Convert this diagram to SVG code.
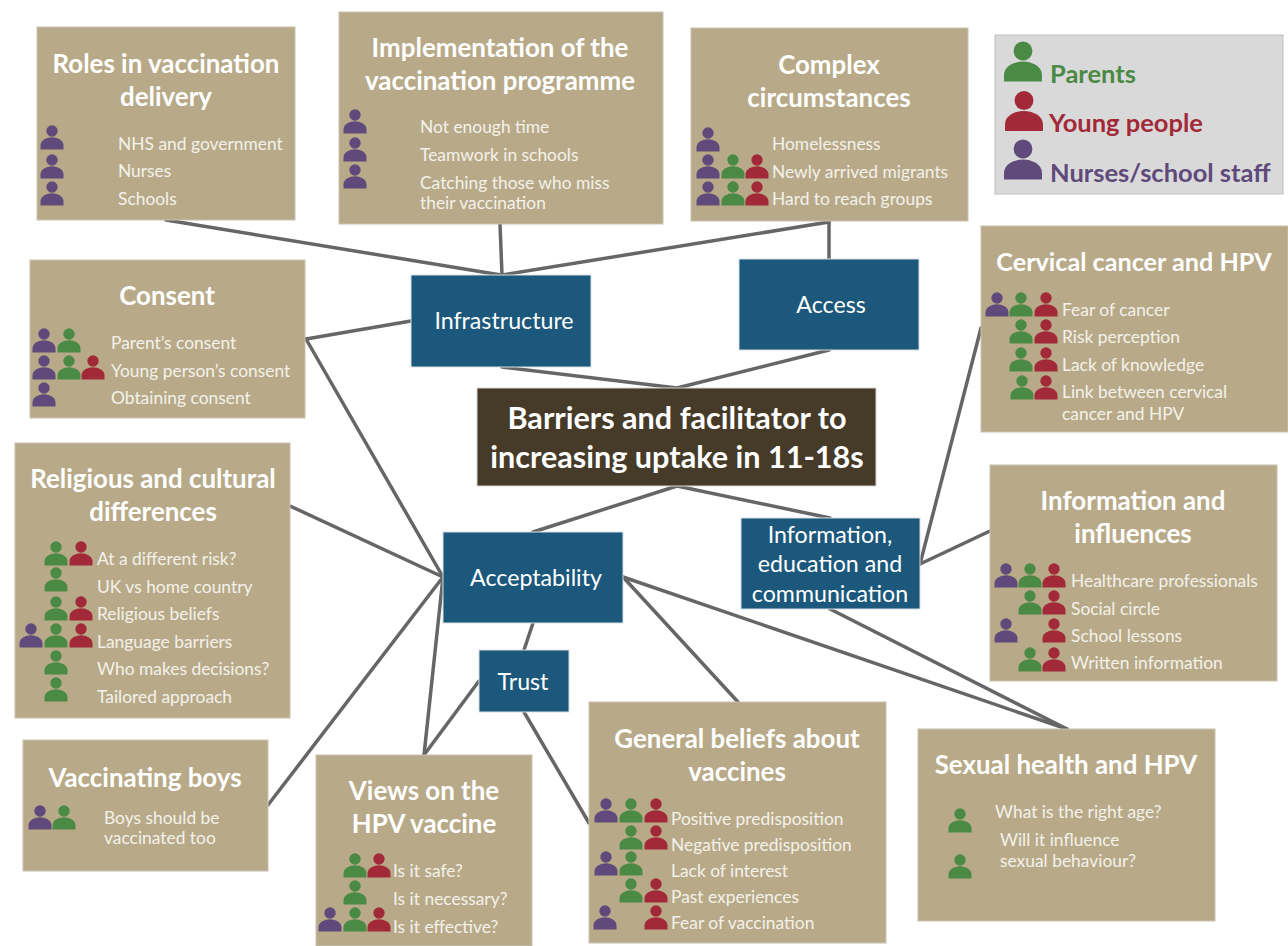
<svg xmlns="http://www.w3.org/2000/svg" width="1288" height="946" viewBox="0 0 1288 946">
<style>
text{font-family:Lato,"Liberation Sans",sans-serif;fill:#fff}
.box{fill:#b8aa88;stroke:#c9c2ae;stroke-width:1}
.blue{fill:#1b587c;stroke:#d5dde3;stroke-width:1}
.t{font-size:25.9px;font-weight:700;text-anchor:middle}
.i{font-size:17.4px;fill:#f4f1ea}
.b{font-size:23.2px;text-anchor:middle}
.c{font-size:30.6px;font-weight:700;text-anchor:middle}
.l{font-size:25.5px;font-weight:700}
.g{fill:#4b8a45}.r{fill:#a22a38}.u{fill:#604a7b}
#connectors line{stroke:#666;stroke-width:3.5;stroke-linecap:round}
</style>
<defs>
<g id="p"><circle cx="0" cy="0" r="5.7"/><path d="M-11.5 18.5V14.5C-11.5 9 -5 6.3 0 6.3C5 6.3 11.5 9 11.5 14.5V18.5Z"/></g>
</defs>
<rect width="1288" height="946" fill="#fff"/>
<g id="connectors">
<line x1="166" y1="220" x2="501" y2="275"/>
<line x1="500" y1="224" x2="502" y2="275"/>
<line x1="829" y1="222" x2="502" y2="275"/>
<line x1="829" y1="222" x2="829" y2="259"/>
<line x1="306" y1="339" x2="411" y2="321"/>
<line x1="306" y1="339" x2="443" y2="577"/>
<line x1="502" y1="367" x2="677" y2="388"/>
<line x1="829" y1="350" x2="677" y2="388"/>
<line x1="677" y1="486" x2="533" y2="532"/>
<line x1="677" y1="486" x2="830" y2="518"/>
<line x1="290" y1="506" x2="443" y2="577"/>
<line x1="268" y1="805" x2="443" y2="577"/>
<line x1="424" y1="755" x2="443" y2="577"/>
<line x1="424" y1="755" x2="479" y2="681"/>
<line x1="533" y1="623" x2="524" y2="650"/>
<line x1="524" y1="712" x2="589" y2="823"/>
<line x1="623" y1="577" x2="738" y2="702"/>
<line x1="623" y1="577" x2="1067" y2="729"/>
<line x1="830" y1="609" x2="1067" y2="729"/>
<line x1="920" y1="564" x2="981" y2="328"/>
<line x1="920" y1="564" x2="990" y2="531"/>
</g>
<g id="roles"><rect class="box" x="37" y="27" width="258" height="193"/>
<text class="t" x="166" y="73">Roles in vaccination</text><text class="t" x="166" y="106">delivery</text>
<text class="i" x="118" y="150">NHS and government</text><text class="i" x="118" y="177">Nurses</text><text class="i" x="118" y="205">Schools</text>
<use href="#p" class="u" x="52" y="131"/><use href="#p" class="u" x="52" y="160"/><use href="#p" class="u" x="52" y="187"/></g>
<g id="implementation"><rect class="box" x="339" y="12" width="324" height="212"/>
<text class="t" x="500" y="57">Implementation of the</text><text class="t" x="500" y="90">vaccination programme</text>
<text class="i" x="420" y="133">Not enough time</text><text class="i" x="420" y="161">Teamwork in schools</text><text class="i" x="420" y="189">Catching those who miss</text><text class="i" x="420" y="209">their vaccination</text>
<use href="#p" class="u" x="355" y="115"/><use href="#p" class="u" x="355" y="143"/><use href="#p" class="u" x="355" y="170"/></g>
<g id="complex"><rect class="box" x="691" y="28" width="277" height="193"/>
<text class="t" x="829" y="74">Complex</text><text class="t" x="829" y="107">circumstances</text>
<text class="i" x="772" y="150">Homelessness</text><text class="i" x="772" y="178">Newly arrived migrants</text><text class="i" x="772" y="205">Hard to reach groups</text>
<use href="#p" class="u" x="708" y="133"/>
<use href="#p" class="u" x="708" y="160"/><use href="#p" class="g" x="733" y="160"/><use href="#p" class="r" x="757" y="160"/>
<use href="#p" class="u" x="708" y="187"/><use href="#p" class="g" x="733" y="187"/><use href="#p" class="r" x="757" y="187"/></g>
<g id="legend"><rect x="995" y="35" width="288" height="159" fill="#d9d9d9" stroke="#bfbfbf"/>
<g transform="translate(1023 51) scale(1.65)"><use href="#p" class="g"/></g>
<g transform="translate(1024 100.5) scale(1.65)"><use href="#p" class="r"/></g>
<g transform="translate(1023 149) scale(1.65)"><use href="#p" class="u"/></g>
<text class="l" x="1050" y="83" style="fill:#4b8a45">Parents</text>
<text class="l" x="1049" y="132" style="fill:#a22a38">Young people</text>
<text class="l" x="1050" y="182" style="fill:#604a7b">Nurses/school staff</text></g>
<g id="consent"><rect class="box" x="30" y="260" width="275" height="158"/>
<text class="t" x="167" y="305">Consent</text>
<text class="i" x="111" y="349">Parent’s consent</text><text class="i" x="111" y="377">Young person’s consent</text><text class="i" x="111" y="404">Obtaining consent</text>
<use href="#p" class="u" x="44" y="334"/><use href="#p" class="g" x="69" y="334"/>
<use href="#p" class="u" x="44" y="361"/><use href="#p" class="g" x="69" y="361"/><use href="#p" class="r" x="93" y="361"/>
<use href="#p" class="u" x="44" y="388"/></g>
<g id="cervical"><rect class="box" x="981" y="226" width="307" height="206"/>
<text class="t" x="1134" y="271" style="font-size:25.2px">Cervical cancer and HPV</text>
<text class="i" x="1062" y="316">Fear of cancer</text><text class="i" x="1062" y="343">Risk perception</text><text class="i" x="1062" y="371">Lack of knowledge</text><text class="i" x="1062" y="398">Link between cervical</text><text class="i" x="1062" y="420">cancer and HPV</text>
<use href="#p" class="u" x="997" y="298"/><use href="#p" class="g" x="1021" y="298"/><use href="#p" class="r" x="1046" y="298"/>
<use href="#p" class="g" x="1021" y="325"/><use href="#p" class="r" x="1046" y="325"/>
<use href="#p" class="g" x="1021" y="353"/><use href="#p" class="r" x="1046" y="353"/>
<use href="#p" class="g" x="1022" y="381"/><use href="#p" class="r" x="1046" y="381"/></g>
<g id="religious"><rect class="box" x="15" y="443" width="275" height="275"/>
<text class="t" x="153" y="488">Religious and cultural</text><text class="t" x="153" y="521">differences</text>
<text class="i" x="97" y="565">At a different risk?</text><text class="i" x="97" y="593">UK vs home country</text><text class="i" x="97" y="620">Religious beliefs</text><text class="i" x="97" y="648">Language barriers</text><text class="i" x="97" y="675">Who makes decisions?</text><text class="i" x="97" y="703">Tailored approach</text>
<use href="#p" class="g" x="56" y="547"/><use href="#p" class="r" x="81" y="547"/>
<use href="#p" class="g" x="56" y="573"/>
<use href="#p" class="g" x="56" y="602"/><use href="#p" class="r" x="81" y="602"/>
<use href="#p" class="u" x="31" y="629"/><use href="#p" class="g" x="56" y="629"/><use href="#p" class="r" x="81" y="629"/>
<use href="#p" class="g" x="56" y="656"/>
<use href="#p" class="g" x="56" y="683"/></g>
<g id="information"><rect class="box" x="990" y="465" width="287" height="216"/>
<text class="t" x="1133" y="510">Information and</text><text class="t" x="1133" y="543">influences</text>
<text class="i" x="1071" y="587">Healthcare professionals</text><text class="i" x="1071" y="615">Social circle</text><text class="i" x="1071" y="642">School lessons</text><text class="i" x="1071" y="669">Written information</text>
<use href="#p" class="u" x="1006" y="569"/><use href="#p" class="g" x="1030" y="569"/><use href="#p" class="r" x="1054" y="569"/>
<use href="#p" class="g" x="1030" y="596"/><use href="#p" class="r" x="1054" y="596"/>
<use href="#p" class="u" x="1006" y="624"/><use href="#p" class="r" x="1054" y="624"/>
<use href="#p" class="g" x="1030" y="653"/><use href="#p" class="r" x="1054" y="653"/></g>
<g id="boys"><rect class="box" x="23" y="740" width="245" height="131"/>
<text class="t" x="145" y="787">Vaccinating boys</text>
<text class="i" x="104" y="824">Boys should be</text><text class="i" x="104" y="844">vaccinated too</text>
<use href="#p" class="u" x="40" y="811"/><use href="#p" class="g" x="64" y="811"/></g>
<g id="views"><rect class="box" x="316" y="755" width="216" height="191"/>
<text class="t" x="424" y="800">Views on the</text><text class="t" x="424" y="833">HPV vaccine</text>
<text class="i" x="393" y="877">Is it safe?</text><text class="i" x="393" y="905">Is it necessary?</text><text class="i" x="393" y="933">Is it effective?</text>
<use href="#p" class="g" x="355" y="859"/><use href="#p" class="r" x="379" y="859"/>
<use href="#p" class="g" x="355" y="886"/>
<use href="#p" class="u" x="330" y="913"/><use href="#p" class="g" x="355" y="913"/><use href="#p" class="r" x="379" y="913"/></g>
<g id="general"><rect class="box" x="589" y="702" width="297" height="241"/>
<text class="t" x="737" y="748">General beliefs about</text><text class="t" x="737" y="781">vaccines</text>
<text class="i" x="671" y="825">Positive predisposition</text><text class="i" x="671" y="851">Negative predisposition</text><text class="i" x="671" y="877">Lack of interest</text><text class="i" x="671" y="903">Past experiences</text><text class="i" x="671" y="929">Fear of vaccination</text>
<use href="#p" class="u" x="606" y="804"/><use href="#p" class="g" x="631" y="804"/><use href="#p" class="r" x="656" y="804"/>
<use href="#p" class="g" x="631" y="831"/><use href="#p" class="r" x="656" y="831"/>
<use href="#p" class="u" x="606" y="857"/><use href="#p" class="g" x="631" y="857"/>
<use href="#p" class="g" x="631" y="884"/><use href="#p" class="r" x="656" y="884"/>
<use href="#p" class="u" x="605" y="911"/><use href="#p" class="r" x="656" y="911"/></g>
<g id="sexual"><rect class="box" x="918" y="729" width="297" height="192"/>
<text class="t" x="1066" y="774">Sexual health and HPV</text>
<text class="i" x="995" y="818">What is the right age?</text><text class="i" x="1000" y="846">Will it influence</text><text class="i" x="1000" y="867">sexual behaviour?</text>
<use href="#p" class="g" x="960" y="814"/><use href="#p" class="g" x="960" y="860"/></g>
<g id="infrastructure"><rect class="blue" x="411" y="275" width="180" height="92"/><text class="b" x="504" y="329">Infrastructure</text></g>
<g id="access"><rect class="blue" x="739" y="259" width="180" height="91"/><text class="b" x="831" y="313">Access</text></g>
<g id="central"><rect x="477" y="388" width="399" height="98" fill="#463b29" stroke="#d8d5cf"/><text class="c" x="677" y="429">Barriers and facilitator to</text><text class="c" x="677" y="468">increasing uptake in 11-18s</text></g>
<g id="acceptability"><rect class="blue" x="443" y="532" width="180" height="91"/><text class="b" x="536" y="586">Acceptability</text></g>
<g id="trust"><rect class="blue" x="479" y="650" width="90" height="62"/><text class="b" x="523" y="690">Trust</text></g>
<g id="iec"><rect class="blue" x="741" y="518" width="179" height="91"/><text class="b" x="830" y="543">Information,</text><text class="b" x="830" y="572">education and</text><text class="b" x="830" y="602">communication</text></g>
</svg>
